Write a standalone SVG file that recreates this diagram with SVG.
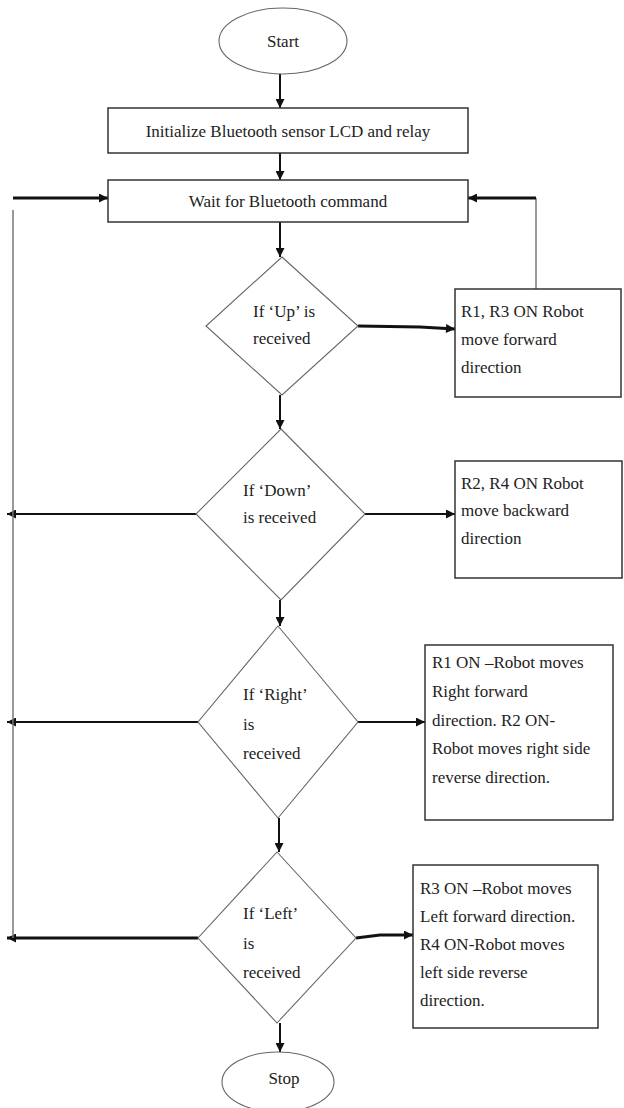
<svg xmlns="http://www.w3.org/2000/svg" width="624" height="1108" viewBox="0 0 624 1108">
<style>
.box{fill:#fff;stroke:#333;stroke-width:1.5}
.dia{fill:#fff;stroke:#666;stroke-width:1.1}
.t{font-family:"Liberation Serif","Times New Roman",serif;font-size:17px;fill:#222}
.c{text-anchor:middle}
.ln{fill:none;stroke:#111;stroke-width:2}
.thick{fill:none;stroke:#111;stroke-width:3}
.gray{fill:none;stroke:#777;stroke-width:1.5}
</style>
<defs>
<marker id="ah" viewBox="0 0 10 10" refX="10" refY="5" markerWidth="10" markerHeight="9" markerUnits="userSpaceOnUse" orient="auto">
<path d="M0,0 L10,5 L0,10 z" fill="#111"/>
</marker>
</defs>
<rect width="624" height="1108" fill="#fff"/>
<g id="connectors">
<path class="ln" d="M280,74 V108" marker-end="url(#ah)"/>
<path class="ln" d="M280,153 V180" marker-end="url(#ah)"/>
<path class="ln" d="M280,222 V257" marker-end="url(#ah)"/>
<path class="ln" d="M280,395 V429" marker-end="url(#ah)"/>
<path class="ln" d="M280,600 V626" marker-end="url(#ah)"/>
<path class="ln" d="M279,818 V852" marker-end="url(#ah)"/>
<path class="ln" d="M280,1023 V1052" marker-end="url(#ah)"/>
<path class="thick" d="M358,326 L420,327 L455,329" marker-end="url(#ah)"/>
<path class="gray" d="M536,289 V198"/>
<path class="thick" d="M536,198 H468" marker-end="url(#ah)"/>
<path class="ln" d="M365,514 H455" marker-end="url(#ah)"/>
<path class="ln" d="M358,722 H425" marker-end="url(#ah)"/>
<path class="thick" d="M356,938 L380,935 H413" marker-end="url(#ah)"/>
<path class="ln" d="M196,514 H7" marker-end="url(#ah)"/>
<path class="ln" d="M198,722 H7" marker-end="url(#ah)"/>
<path class="thick" d="M198,938 H7" marker-end="url(#ah)"/>
<path class="gray" d="M13,210 V938" stroke-width="2"/>
<path class="thick" d="M13,198 H108" marker-end="url(#ah)"/>
</g>
<g id="start">
<ellipse cx="283" cy="41" rx="64" ry="33" class="dia" stroke="#444"/>
<text class="t c" x="283" y="47">Start</text>
</g>
<g id="init">
<rect class="box" x="108" y="108" width="360" height="45"/>
<text class="t c" x="288" y="137">Initialize Bluetooth sensor LCD and relay</text>
</g>
<g id="wait">
<rect class="box" x="108" y="180" width="360" height="42"/>
<text class="t c" x="288" y="207">Wait for Bluetooth command</text>
</g>
<g id="d-up">
<polygon class="dia" points="282,257 358,326 282,395 206,326"/>
<text class="t" x="253" y="317">If ‘Up’ is</text>
<text class="t" x="253" y="344">received</text>
</g>
<g id="r-up">
<rect class="box" x="455" y="289" width="166" height="108"/>
<text class="t" x="461" y="317">R1, R3 ON Robot</text>
<text class="t" x="461" y="345">move forward</text>
<text class="t" x="461" y="373">direction</text>
</g>
<g id="d-down">
<polygon class="dia" points="281,429 365,514 281,600 196,514"/>
<text class="t" x="243" y="496">If ‘Down’</text>
<text class="t" x="243" y="523">is received</text>
</g>
<g id="r-down">
<rect class="box" x="455" y="461" width="167" height="117"/>
<text class="t" x="461" y="489">R2, R4 ON Robot</text>
<text class="t" x="461" y="516">move backward</text>
<text class="t" x="461" y="544">direction</text>
</g>
<g id="d-right">
<polygon class="dia" points="278,626 358,722 278,818 198,722"/>
<text class="t" x="243" y="700">If ‘Right’</text>
<text class="t" x="243" y="730">is</text>
<text class="t" x="243" y="759">received</text>
</g>
<g id="r-right">
<rect class="box" x="425" y="645" width="188" height="175"/>
<text class="t" x="432" y="668">R1 ON –Robot moves</text>
<text class="t" x="432" y="697">Right forward</text>
<text class="t" x="432" y="726">direction. R2 ON-</text>
<text class="t" x="432" y="754">Robot moves right side</text>
<text class="t" x="432" y="783">reverse direction.</text>
</g>
<g id="d-left">
<polygon class="dia" points="277,852 356,938 277,1023 198,938"/>
<text class="t" x="243" y="919">If ‘Left’</text>
<text class="t" x="243" y="949">is</text>
<text class="t" x="243" y="978">received</text>
</g>
<g id="r-left">
<rect class="box" x="413" y="865" width="185" height="163"/>
<text class="t" x="420" y="894">R3 ON –Robot moves</text>
<text class="t" x="420" y="922">Left forward direction.</text>
<text class="t" x="420" y="950">R4 ON-Robot moves</text>
<text class="t" x="420" y="978">left side reverse</text>
<text class="t" x="420" y="1006">direction.</text>
</g>
<g id="stop">
<ellipse cx="278" cy="1082" rx="56" ry="30" class="dia" stroke="#444"/>
<text class="t c" x="284" y="1084">Stop</text>
</g>
</svg>
